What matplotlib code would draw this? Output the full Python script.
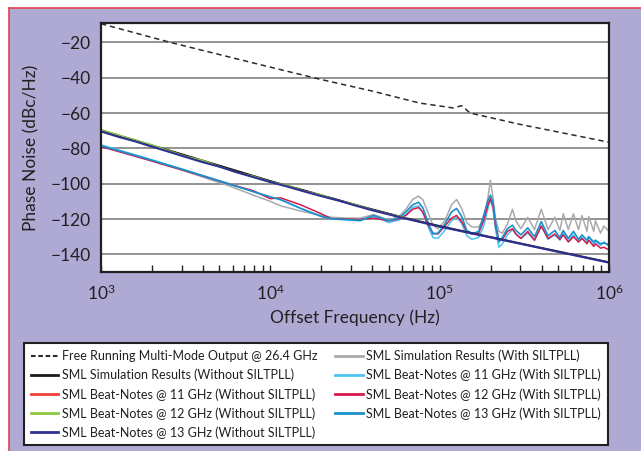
import numpy as np
import matplotlib
matplotlib.use("Agg")
import matplotlib.pyplot as plt
from matplotlib.patches import Rectangle
from matplotlib.lines import Line2D
from matplotlib.ticker import LogLocator, NullFormatter

plt.rcParams['font.family'] = ['Lato', 'DejaVu Sans']

# ---- data (offset frequency given as decades above 1 kHz) ----
# free running multi-mode output
dec_free = [0, 0.41, 1.0, 1.3, 1.6, 1.88, 2.08, 2.13, 2.18, 2.48, 3.0]
pn_free = [-9.4, -20, -34, -41, -47.5, -54.3, -57.1, -55.8, -60, -66.5, -76.5]

# without SILTPLL
dec_wo = [0, 0.1, 0.2, 0.3, 0.4, 0.5, 0.6, 0.7, 0.8, 0.9, 1.0, 1.1, 1.2, 1.3,
          1.4, 1.5, 1.6, 1.7, 1.8, 2.0, 2.5, 3.0]
pn_sim_wo = [-69.7, -72.6, -75.4, -78.3, -81.1, -84.0, -86.9, -89.8, -92.7, -95.6,
             -98.5, -101.2, -103.8, -106.5, -109.2, -111.9, -114.5, -117.0, -119.5,
             -124.0, -134.3, -144.5]
dec_11_wo = [0, 0.5, 1.0, 1.5, 1.8]
pn_11_wo = [-69.9, -84.2, -98.8, -112.1, -119.6]
dec_12_wo = dec_wo[:19]
pn_12_wo = [-69.5, -72.3, -75.2, -78.0, -81.3, -84.5, -86.8, -90.3, -93.6, -95.8,
            -98.9, -101.0, -104.2, -106.3, -109.6, -111.7, -114.8, -117.2, -119.3]
pn_13_wo = [-70.4, -73.4, -76.0, -79.0, -81.9, -84.9, -87.8, -90.4, -93.5, -96.3,
            -99.1, -101.6, -104.4, -107.0, -109.5, -112.3, -115.0, -117.4, -119.8,
            -124.3, -134.5, -144.7]

# with SILTPLL
dec_w = [0.00, 0.25, 0.50, 0.75, 0.90, 1.00, 1.06, 1.18, 1.30, 1.36, 1.45, 1.53,
         1.61, 1.70, 1.76, 1.80, 1.84, 1.875, 1.90, 1.93, 1.96, 1.99, 2.03, 2.07,
         2.10, 2.13, 2.16, 2.19, 2.23, 2.26, 2.285, 2.30, 2.315, 2.33, 2.35, 2.37,
         2.40, 2.43, 2.45, 2.48, 2.52, 2.56, 2.60, 2.64, 2.68, 2.71, 2.73, 2.76,
         2.79, 2.82, 2.84, 2.87, 2.88, 2.91, 2.92, 2.95, 2.97, 3.00]
pn_sim_w = [-78.5, -85.5, -93.0, -101.0, -106.5, -110.0, -112.5, -115.5, -118.0, -119.0,
            -119.5, -119.5, -117.5, -120.5, -118.5, -114.5, -109.0, -107.0, -109.0, -116.0,
            -123.5, -125.5, -121.0, -112.0, -109.0, -114.0, -122.0, -124.5, -124.5, -120.0,
            -108.0, -98.0, -108.0, -120.0, -127.0, -128.0, -123.0, -114.5, -121.0, -125.5,
            -119.0, -126.0, -114.5, -126.0, -119.0, -126.5, -117.0, -126.0, -117.0, -126.0,
            -118.0, -127.0, -118.5, -127.0, -121.0, -128.0, -124.0, -127.0]
pn_11_w = [-78.0, -85.0, -92.3, -99.8, -104.5, -107.5, -109.0, -114.0, -118.5, -120.0,
           -120.5, -121.0, -118.5, -122.0, -120.5, -117.5, -113.5, -112.5, -116.0, -124.0,
           -130.5, -131.0, -126.5, -121.0, -119.0, -122.5, -129.5, -131.5, -130.5, -124.0,
           -114.0, -109.0, -114.0, -126.0, -136.0, -134.0, -129.0, -126.0, -128.5, -131.0,
           -128.0, -132.0, -124.0, -131.5, -129.0, -132.0, -128.0, -132.5, -129.0, -133.0,
           -130.5, -133.5, -130.0, -134.5, -132.5, -135.0, -133.0, -135.5]
pn_12_w = [-79.0, -85.8, -92.8, -100.0, -104.0, -108.5, -108.0, -112.0, -117.0, -119.8,
           -120.0, -120.3, -119.5, -121.0, -120.0, -118.0, -114.5, -113.5, -116.0, -123.0,
           -128.0, -128.5, -124.0, -119.5, -118.0, -121.5, -127.0, -128.5, -128.0, -121.0,
           -112.0, -108.5, -113.0, -124.0, -132.0, -131.5, -127.0, -125.5, -128.5, -131.0,
           -127.0, -132.0, -124.0, -131.0, -128.5, -131.5, -129.0, -133.0, -130.0, -133.0,
           -131.0, -134.0, -132.0, -135.5, -134.0, -136.5, -136.0, -137.5]
pn_13_w = [-78.5, -85.3, -92.5, -100.0, -104.5, -107.5, -109.0, -114.0, -118.5, -119.8,
           -120.3, -120.8, -118.0, -121.0, -119.5, -116.0, -112.0, -110.5, -113.5, -121.5,
           -128.5, -128.0, -123.0, -116.0, -114.0, -118.5, -126.5, -128.5, -127.0, -118.0,
           -109.5, -106.5, -110.5, -122.0, -133.0, -130.5, -125.5, -123.5, -126.5, -129.0,
           -125.0, -130.0, -121.5, -129.5, -126.5, -130.5, -126.5, -131.0, -127.0, -131.5,
           -129.0, -132.0, -130.0, -133.0, -132.0, -134.0, -133.5, -134.5]

labels = ["Free Running Multi-Mode Output @ 26.4 GHz",
          "SML Simulation Results (Without SILTPLL)",
          "SML Beat-Notes @ 11 GHz (Without SILTPLL)",
          "SML Beat-Notes @ 12 GHz (Without SILTPLL)",
          "SML Beat-Notes @ 13 GHz (Without SILTPLL)",
          "SML Simulation Results (With SILTPLL)",
          "SML Beat-Notes @ 11 GHz (With SILTPLL)",
          "SML Beat-Notes @ 12 GHz (With SILTPLL)",
          "SML Beat-Notes @ 13 GHz (With SILTPLL)"]
colors = ['#2b2b2b', '#1a1a1a', '#EF4136', '#8DC63F', '#2E3192',
          '#A7A9AC', '#4CC3F0', '#D7194A', '#1A8FCB']


def hz(d):
    return np.power(10.0, 3 + np.asarray(d))


fig = plt.figure(figsize=(6.41, 4.51), dpi=100)
fig.patch.set_facecolor('white')
# lavender panel with red border on top/left
fig.add_artist(Rectangle((9 / 641, 0), 1, 1 - 8 / 451, transform=fig.transFigure,
                         facecolor='#AEAAD4', edgecolor='none', zorder=0))
fig.add_artist(Line2D([8.5 / 641, 1], [1 - 7.5 / 451, 1 - 7.5 / 451],
                      transform=fig.transFigure, color='#E0434F', lw=1.2))
fig.add_artist(Line2D([8.5 / 641, 8.5 / 641], [0, 1 - 7.5 / 451],
                      transform=fig.transFigure, color='#E0434F', lw=1.2))

ax = fig.add_axes([101 / 641, 1 - 272 / 451, 508 / 641, 249 / 451])
ax.set_facecolor('white')

ax.plot(hz(dec_w), pn_sim_w, color=colors[5], lw=1.1)
ax.plot(hz(dec_w), pn_11_w, color=colors[6], lw=1.1)
ax.plot(hz(dec_w), pn_12_w, color=colors[7], lw=1.1)
ax.plot(hz(dec_w), pn_13_w, color=colors[8], lw=1.2)
ax.plot(hz(dec_11_wo), pn_11_wo, color=colors[2], lw=1.1)
ax.plot(hz(dec_wo), pn_sim_wo, color=colors[1], lw=1.4)
ax.plot(hz(dec_12_wo), pn_12_wo, color=colors[3], lw=1.1)
ax.plot(hz(dec_wo), pn_13_wo, color=colors[4], lw=1.5)
ax.plot(hz(dec_free), pn_free, color=colors[0], lw=1.1, dashes=(3.5, 2.5))

ax.set_xscale('log')
ax.set_xlim(1e3, 1e6)
ax.set_ylim(-150, -9)
ax.set_yticks([-20, -40, -60, -80, -100, -120, -140])
ax.set_yticklabels(['\u221220', '\u221240', '\u221260', '\u221280',
                    '\u2212100', '\u2212120', '\u2212140'])
ax.yaxis.grid(True, color='#8a8a8a', lw=1.3)
ax.set_axisbelow(True)
ax.tick_params(axis='y', length=0, labelsize=12.5, pad=7, colors='#231f20')
ax.set_xticks([1e3, 1e4, 1e5, 1e6])
ax.set_xticklabels([r'$\mathregular{10^{3}}$', r'$\mathregular{10^{4}}$',
                    r'$\mathregular{10^{5}}$', r'$\mathregular{10^{6}}$'])
ax.xaxis.set_minor_locator(LogLocator(base=10, subs=np.arange(2, 10)))
ax.xaxis.set_minor_formatter(NullFormatter())
ax.tick_params(axis='x', which='both', direction='in', length=5, width=1,
               labelsize=12.5, pad=8, colors='#231f20')
for s in ax.spines.values():
    s.set_linewidth(1.6)
    s.set_color('#231f20')

ax.set_xlabel('Offset Frequency (Hz)', fontsize=12.5, color='#231f20', labelpad=5)
ax.set_ylabel('Phase Noise (dBc/Hz)', fontsize=12.5, color='#231f20', labelpad=8)

handles = [Line2D([], [], color=colors[0], lw=1.5, dashes=(2.2, 1.3))]
handles += [Line2D([], [], color=c, lw=2) for c in colors[1:]]
leg = fig.legend(handles, labels, ncol=2, loc='upper left',
                 bbox_to_anchor=(24 / 641, 1 - 343 / 451),
                 fontsize=9, frameon=True, fancybox=False, framealpha=1,
                 facecolor='white', edgecolor='#231f20', borderpad=0.55,
                 labelspacing=0.52, handlelength=2.2, handletextpad=0.3,
                 columnspacing=1.4, borderaxespad=0)
leg.get_frame().set_linewidth(1.5)
for t in leg.get_texts():
    t.set_color('#231f20')

fig.savefig('out.png', dpi=100)
